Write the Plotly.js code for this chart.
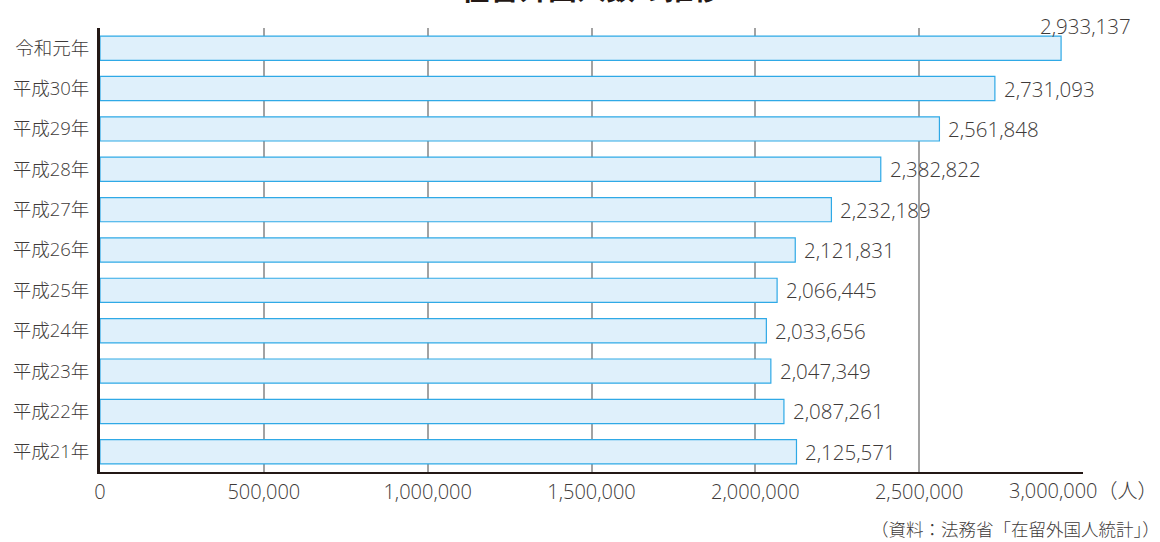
<!DOCTYPE html>
<html>
<head>
<meta charset="utf-8">
<script src="https://cdn.plot.ly/plotly-3.0.1.min.js"></script>
<style>
  html, body { margin: 0; padding: 0; background: #fff; }
  #chart { width: 1160px; height: 542px; }
</style>
</head>
<body>
<div id="chart"></div>
<script>
// Foreign residents in Japan, by year (end of year), oldest first
const years = ['平成21年', '平成22年', '平成23年', '平成24年', '平成25年', '平成26年',
               '平成27年', '平成28年', '平成29年', '平成30年', '令和元年'];
const residents = [2125571, 2087261, 2047349, 2033656, 2066445, 2121831,
                   2232189, 2382822, 2561848, 2731093, 2933137];
const xTicks = [0, 500000, 1000000, 1500000, 2000000, 2500000, 3000000];
const xTickText = ['0', '500,000', '1,000,000', '1,500,000', '2,000,000', '2,500,000', '3,000,000'];
const unitLabel = '（人）';
const sourceNote = '（資料：法務省「在留外国人統計」）';

const FONT = '"Open Sans", "Noto Sans CJK JP", sans-serif';
const CJK = '"Noto Sans CJK JP", sans-serif';
const TEXT = '#3e3a39';

const fmt = v => v.toLocaleString('en-US');

const trace = {
  type: 'bar',
  orientation: 'h',
  y: years,
  x: residents,
  width: 0.6,
  marker: { color: '#dff0fb', line: { color: '#2fa9e6', width: 1.2 } },
  hoverinfo: 'skip'
};

// value labels to the right of each bar; the longest bar's label sits above its end
const valueLabels = years.map((y, i) => {
  const last = i === years.length - 1;
  return {
    xref: 'x', yref: 'y',
    x: residents[i], y: y,
    text: fmt(residents[i]),
    showarrow: false,
    xanchor: 'left',
    yanchor: 'middle',
    xshift: last ? -23 : 7,
    yshift: last ? 22 : 0,
    font: { family: FONT, size: 20.5, color: TEXT, weight: 300 }
  };
});

// the last tick label is drawn together with the unit, pushed left to fit
const tickTextShown = xTickText.map((t, i) => (i === xTickText.length - 1 ? '' : t));

const layout = {
  width: 1160,
  height: 542,
  margin: { l: 100, r: 77, t: 28, b: 70 },
  paper_bgcolor: '#fff',
  plot_bgcolor: '#fff',
  showlegend: false,
  xaxis: {
    range: [0, 3000000],
    tickvals: xTicks,
    ticktext: tickTextShown,
    showgrid: true,
    gridcolor: '#a3a3a3',
    gridwidth: 2,
    zeroline: false,
    showline: true,
    linecolor: '#231815',
    linewidth: 2,
    ticks: '',
    ticklabelstandoff: 1,
    tickfont: { family: FONT, size: 20, color: TEXT, weight: 300 },
    fixedrange: true
  },
  yaxis: {
    type: 'category',
    range: [-0.5, 10.5],
    showgrid: false,
    zeroline: false,
    showline: true,
    linecolor: '#231815',
    linewidth: 3,
    ticks: '',
    ticklabelstandoff: 4,
    tickfont: { family: FONT, size: 18.5, color: TEXT, weight: 300 },
    fixedrange: true
  },
  annotations: valueLabels.concat([
    {
      xref: 'paper', yref: 'paper',
      x: 0.5, y: 1.092,
      xanchor: 'center', yanchor: 'middle',
      text: '<b>在留外国人数の推移</b>',
      showarrow: false,
      font: { family: CJK, size: 29, color: '#231815' }
    },
    {
      xref: 'paper', yref: 'paper',
      x: 1.0783, y: 0,
      xanchor: 'right', yanchor: 'top',
      yshift: -3,
      text: xTickText[xTickText.length - 1] + unitLabel,
      showarrow: false,
      font: { family: FONT, size: 20, color: TEXT, weight: 300 }
    },
    {
      xref: 'paper', yref: 'paper',
      x: 1.0804, y: 0,
      xanchor: 'right', yanchor: 'middle',
      yshift: -56,
      text: sourceNote,
      showarrow: false,
      font: { family: CJK, size: 17.5, color: TEXT, weight: 300 }
    }
  ])
};

Plotly.newPlot('chart', [trace], layout, { displayModeBar: false, staticPlot: true });
</script>
</body>
</html>
